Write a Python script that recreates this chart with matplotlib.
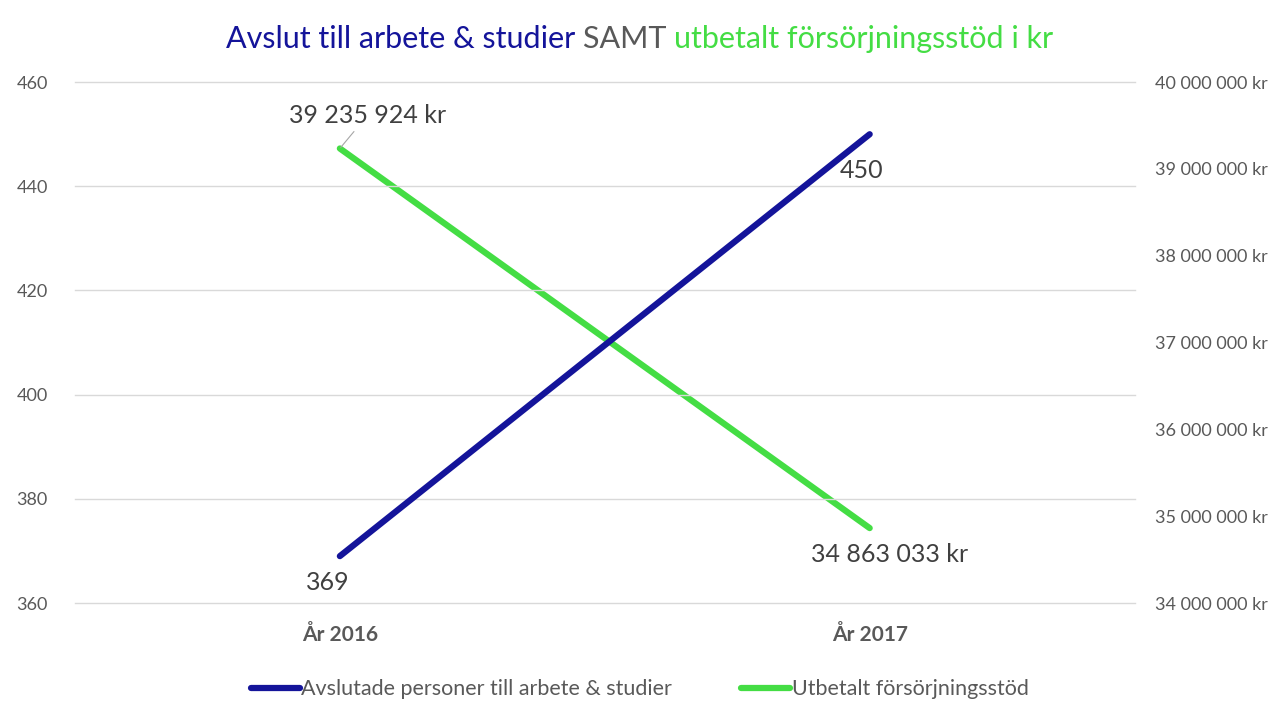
import matplotlib
matplotlib.use('Agg')

import matplotlib.pyplot as plt

# --- Data ---
years = ['År 2016', 'År 2017']
avslut = [369, 450]
stod = [39235924, 34863033]

left_ticks = [360, 380, 400, 420, 440, 460]
right_ticks = [34e6, 35e6, 36e6, 37e6, 38e6, 39e6, 40e6]

blue = '#14149a'
green = '#44dd44'
gray = '#595959'
fam = ['Liberation Sans Narrow', 'Lato', 'DejaVu Sans']
plt.rcParams['font.family'] = fam


def kr(v):
    return f"{int(v):,}".replace(',', ' ') + ' kr'


fig = plt.figure(figsize=(12.79, 7.02), dpi=100)
ax = fig.add_axes([0.0586, 0.141, 0.8285, 0.742])
ax2 = ax.twinx()

x = [0, 1]
ax.plot(x, avslut, color=blue, lw=4.5, solid_capstyle='round', zorder=3)
ax2.plot(x, stod, color=green, lw=4.5, solid_capstyle='round', zorder=3)

ax.set_xlim(-0.5, 1.5)
ax.set_ylim(360, 460)
ax2.set_ylim(34e6, 40e6)
ax.set_yticks(left_ticks)
ax2.set_yticks(right_ticks)
ax2.set_yticklabels([kr(v) for v in right_ticks])
ax.set_xticks(x)
ax.set_xticklabels(years, fontsize=15, fontweight='bold', color=gray)

ax.grid(axis='y', color='#d9d9d9', lw=1)
for gl in ax.get_ygridlines():
    gl.set_clip_on(False)
for a in (ax, ax2):
    for s in a.spines.values():
        s.set_visible(False)
    a.tick_params(length=0)
ax.tick_params(axis='y', labelsize=13, labelcolor=gray, pad=19.5)
ax2.tick_params(axis='y', labelsize=13, labelcolor=gray, pad=14.5)
ax.tick_params(axis='x', pad=16)
ax.set_zorder(2)
ax.patch.set_visible(False)

# data labels
lab = dict(fontsize=18, color='#404040', ha='center', va='center',
           textcoords='offset points')
ax.annotate(str(avslut[0]), (x[0], avslut[0]), xytext=(-9, -19), **lab)
ax.annotate(str(avslut[1]), (x[1], avslut[1]), xytext=(-6, -26), **lab)
ax2.annotate(kr(stod[0]), (x[0], stod[0]), xytext=(20, 24), **lab,
             arrowprops=dict(arrowstyle='-', color='#a6a6a6', lw=0.8,
                             shrinkA=2, shrinkB=1))
ax2.annotate(kr(stod[1]), (x[1], stod[1]), xytext=(14, -19), **lab)

# legend
hl = [plt.Line2D([], [], color=blue, lw=4.5, solid_capstyle='round'),
      plt.Line2D([], [], color=green, lw=4.5, solid_capstyle='round')]
fig.legend(hl, ['Avslutade personer till arbete & studier', 'Utbetalt försörjningsstöd'],
           loc='center', bbox_to_anchor=(0.5, 0.018), ncol=2, frameon=False,
           fontsize=15.5, labelcolor=gray, handlelength=2.3, handletextpad=0.05,
           columnspacing=3.2)

# multi-colour title
parts = [('Avslut till arbete & studier ', blue), ('SAMT ', gray),
         ('utbetalt försörjningsstöd i kr', green)]
fig.canvas.draw()
r = fig.canvas.get_renderer()
texts = [fig.text(0, 0.945, p, color=c, fontsize=22, va='center') for p, c in parts]
widths = [t.get_window_extent(r).width / fig.bbox.width for t in texts]
xpos = 0.5 - sum(widths) / 2
for t, w in zip(texts, widths):
    t.set_x(xpos)
    xpos += w

fig.savefig('out.png', dpi=100)
